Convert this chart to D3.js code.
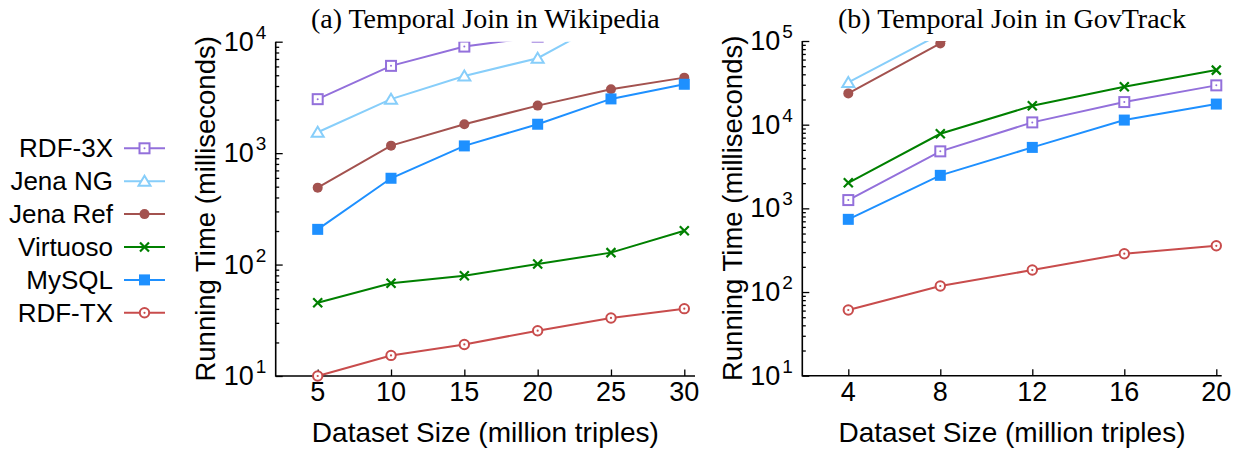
<!doctype html>
<meta charset="utf-8">
<style>
body { margin: 0; background: #fff; }
text { font-family: "Liberation Sans", Arial, sans-serif; fill: #000; }
.title { font-family: "Liberation Serif", "Times New Roman", serif; }
</style>
<script src="https://d3js.org/d3.v7.min.js"></script>
<body>
<svg id="chart" width="1244" height="451"></svg>
<script>
// series names, in legend order
var seriesNames = ["RDF-3X", "Jena NG", "Jena Ref", "Virtuoso", "MySQL", "RDF-TX"];
var seriesColors = ["#9370db", "#87cefa", "#a3524f", "#008000", "#1e90ff", "#c84c4c"];
var seriesMarkers = ["squareOpen", "triangle", "dot", "cross", "squareFill", "circleOpen"];

// (a) Wikipedia
var wikiSizes = [5, 10, 15, 20, 25, 30];
var wikiRdf3x = [3050, 6070, 9040, 11100];
var wikiJenaNG = [1540, 3050, 4930, 7110, 16200];
var wikiJenaRef = [490, 1167, 1817, 2670, 3745, 4760];
var wikiVirtuoso = [45.5, 67.9, 79.5, 101, 128, 201];
var wikiMySQL = [207, 595, 1161, 1817, 3067, 4150];
var wikiRdfTx = [10, 15.3, 19.2, 25.5, 33.2, 40.2];

// (b) GovTrack
var govSizes = [4, 8, 12, 16, 20];
var govRdf3x = [1256, 4800, 10650, 18620, 29500];
var govJenaNG = [32000, 121000];
var govJenaRef = [23650, 93600, 400000];
var govVirtuoso = [2020, 7790, 16830, 28370, 44900];
var govMySQL = [739, 2480, 5350, 11350, 17630];
var govRdfTx = [61, 118, 183, 287, 357];

var svg = d3.select("#chart");

function marker(g, type, color) {
  if (type == "squareOpen") {
    g.append("rect").attr("x", -5).attr("y", -5).attr("width", 10).attr("height", 10)
      .attr("fill", "#fff").attr("stroke", color).attr("stroke-width", 2);
    g.append("circle").attr("r", 1).attr("fill", color);
  } else if (type == "triangle") {
    g.append("path").attr("d", "M0,-5.5L6,4.5L-6,4.5Z")
      .attr("fill", "#fff").attr("stroke", color).attr("stroke-width", 2);
  } else if (type == "dot") {
    g.append("circle").attr("r", 5).attr("fill", color);
  } else if (type == "cross") {
    g.append("path").attr("d", "M-4.5,-4.5L4.5,4.5M-4.5,4.5L4.5,-4.5")
      .attr("stroke", color).attr("stroke-width", 2.2);
  } else if (type == "squareFill") {
    g.append("rect").attr("x", -5.5).attr("y", -5.5).attr("width", 11).attr("height", 11)
      .attr("fill", color);
  } else if (type == "circleOpen") {
    g.append("circle").attr("r", 4.7)
      .attr("fill", "#fff").attr("stroke", color).attr("stroke-width", 2);
    g.append("circle").attr("r", 1.1).attr("fill", color);
  }
}

function panel(opt) {
  var w = opt.width, h = opt.height;
  var g = svg.append("g").attr("transform", "translate(" + opt.left + "," + opt.top + ")");

  var x = d3.scaleLinear().domain(opt.xDomain).range(opt.xRange);
  var y = d3.scaleLog().domain(opt.yDomain).range([h, 0]);

  var id = "clip" + opt.key;
  g.append("clipPath").attr("id", id)
    .append("rect").attr("x", -30).attr("y", 0).attr("width", w + 60).attr("height", h + 30);

  // minor ticks on the log axis
  var minors = [];
  var lo = Math.log10(opt.yDomain[0]), hi = Math.log10(opt.yDomain[1]);
  for (var e = lo; e < hi; e++) {
    for (var m = 2; m <= 9; m++) minors.push(m * Math.pow(10, e));
  }
  var majors = d3.range(lo, hi + 1).map(function(e) { return Math.pow(10, e); });

  g.append("g").call(d3.axisLeft(y).tickValues(minors).tickSize(-3.5).tickFormat(""))
    .call(function(a) { a.select(".domain").remove(); a.selectAll("line").attr("stroke-width", 1.3); });
  g.append("g").call(d3.axisLeft(y).tickValues(majors).tickSize(-7).tickFormat(""))
    .call(function(a) { a.select(".domain").remove(); a.selectAll("line").attr("stroke-width", 1.3); });
  g.append("g").attr("transform", "translate(0," + h + ")")
    .call(d3.axisBottom(x).tickValues(opt.xTicks).tickSize(-6.5).tickFormat(""))
    .call(function(a) { a.select(".domain").remove(); a.selectAll("line").attr("stroke-width", 1.3); });

  // axis lines
  g.append("path").attr("d", "M0,0V" + h + "H" + w)
    .attr("fill", "none").attr("stroke", "#000").attr("stroke-width", 1.6);

  // y labels as 10^n
  majors.forEach(function(v) {
    g.append("text").attr("x", -22).attr("y", y(v) + 9)
      .attr("text-anchor", "end").style("font-size", "27px").text("10");
    g.append("text").attr("x", -20).attr("y", y(v) - 3)
      .style("font-size", "19px").text(Math.round(Math.log10(v)));
  });

  opt.xTicks.forEach(function(v) {
    g.append("text").attr("x", x(v)).attr("y", h + 25)
      .attr("text-anchor", "middle").style("font-size", "27px").text(v);
  });

  g.append("text").attr("transform", "translate(" + opt.yTitleX + "," + (h / 2) + ") rotate(-90)")
    .attr("text-anchor", "middle").style("font-size", "27.5px").text("Running Time (milliseconds)");
  g.append("text").attr("x", w / 2).attr("y", h + 66)
    .attr("text-anchor", "middle").style("font-size", "28px").text("Dataset Size (million triples)");
  g.append("text").attr("class", "title").attr("x", w / 2).attr("y", 28.3 - opt.top)
    .attr("text-anchor", "middle").style("font-size", "28px").text(opt.title);

  var plot = g.append("g").attr("clip-path", "url(#" + id + ")");
  var line = d3.line().x(function(d) { return x(d[0]); }).y(function(d) { return y(d[1]); });

  opt.series.forEach(function(vals, i) {
    var pts = vals.map(function(v, j) { return [opt.sizes[j], v]; });
    var sg = plot.append("g");
    sg.append("path").datum(pts).attr("d", line)
      .attr("fill", "none").attr("stroke", seriesColors[i]).attr("stroke-width", 2);
    pts.forEach(function(p) {
      marker(sg.append("g").attr("transform", "translate(" + x(p[0]) + "," + y(p[1]) + ")"),
        seriesMarkers[i], seriesColors[i]);
    });
  });
}

panel({
  key: "a", left: 275.7, top: 41.7, width: 419.3, height: 334.3,
  xDomain: [5, 30], xRange: [42, 408.6], xTicks: wikiSizes,
  yDomain: [10, 1e4], yTitleX: -60.7,
  title: "(a) Temporal Join in Wikipedia",
  sizes: wikiSizes,
  series: [wikiRdf3x, wikiJenaNG, wikiJenaRef, wikiVirtuoso, wikiMySQL, wikiRdfTx]
});

panel({
  key: "b", left: 802.3, top: 41, width: 419.4, height: 334.7,
  xDomain: [4, 20], xRange: [46, 414], xTicks: govSizes,
  yDomain: [10, 1e5], yTitleX: -60.7,
  title: "(b) Temporal Join in GovTrack",
  sizes: govSizes,
  series: [govRdf3x, govJenaNG, govJenaRef, govVirtuoso, govMySQL, govRdfTx]
});

// legend
var legend = svg.append("g");
seriesNames.forEach(function(name, i) {
  var cy = 148.3 + i * 32.9;
  legend.append("text").attr("x", 113).attr("y", cy + 9)
    .attr("text-anchor", "end").style("font-size", "26px").text(name);
  legend.append("line").attr("x1", 124).attr("x2", 165).attr("y1", cy).attr("y2", cy)
    .attr("stroke", seriesColors[i]).attr("stroke-width", 2);
  marker(legend.append("g").attr("transform", "translate(144.5," + cy + ")"), seriesMarkers[i], seriesColors[i]);
});
</script>
</body>
